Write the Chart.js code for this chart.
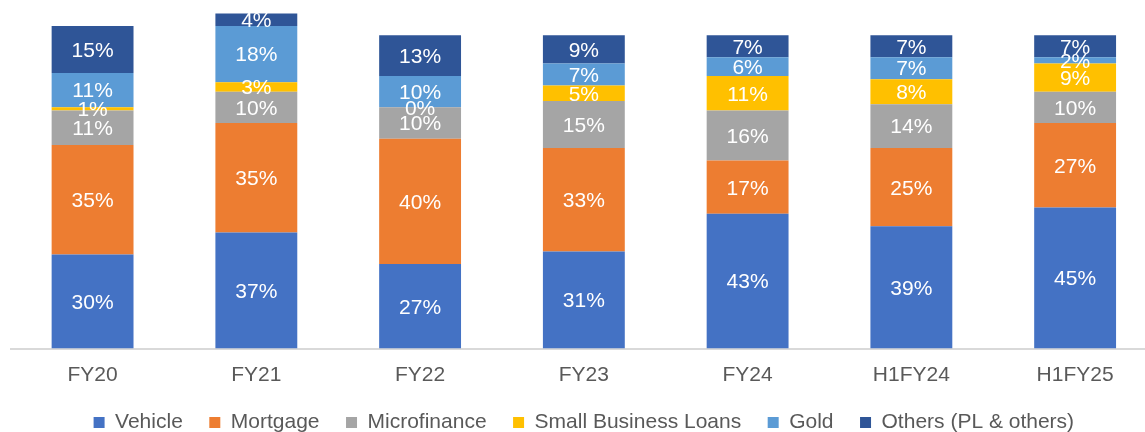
<!DOCTYPE html>
<html>
<head>
<meta charset="utf-8">
<script src="https://cdn.jsdelivr.net/npm/chart.js@4.4.1/dist/chart.umd.min.js"></script>
<style>
  html, body { margin: 0; padding: 0; background: #ffffff; overflow: hidden; }
  #wrap { position: relative; width: 1145px; height: 432px; overflow: hidden; }
  #c { display: block; }
</style>
</head>
<body>
<div id="wrap"><canvas id="c" width="1157" height="443"></canvas></div>
<script>
const categories = ["FY20", "FY21", "FY22", "FY23", "FY24", "H1FY24", "H1FY25"];
const vehicle      = [30, 37, 27, 31, 43, 39, 45];
const mortgage     = [35, 35, 40, 33, 17, 25, 27];
const microfinance = [11, 10, 10, 15, 16, 14, 10];
const smallBiz     = [1, 3, 0, 5, 11, 8, 9];
const gold         = [11, 18, 10, 7, 6, 7, 2];
const others       = [15, 4, 13, 9, 7, 7, 7];
const seriesNames  = ["Vehicle", "Mortgage", "Microfinance", "Small Business Loans", "Gold", "Others (PL & others)"];
const seriesColors = ["#4472C4", "#ED7D31", "#A5A5A5", "#FFC000", "#5B9BD5", "#2F5597"];
const seriesValues = [vehicle, mortgage, microfinance, smallBiz, gold, others];

const FONT = "'Liberation Sans', Arial, sans-serif";

const valueLabels = {
  id: 'valueLabels',
  afterDatasetsDraw(chart) {
    const ctx = chart.ctx;
    ctx.save();
    ctx.font = "21px " + FONT;
    ctx.fillStyle = "#ffffff";
    ctx.textAlign = "center";
    ctx.textBaseline = "middle";
    chart.data.datasets.forEach((ds, di) => {
      const meta = chart.getDatasetMeta(di);
      meta.data.forEach((el, i) => {
        const v = ds.data[i];
        const yc = (el.y + el.base) / 2;
        ctx.fillText(v + "%", el.x, yc + 1.5);
      });
    });
    ctx.restore();
  }
};

new Chart(document.getElementById('c'), {
  type: 'bar',
  data: {
    labels: categories,
    datasets: seriesValues.map((vals, k) => ({
      label: seriesNames[k],
      data: vals,
      backgroundColor: seriesColors[k],
      borderWidth: 0,
      barPercentage: 1.0,
      categoryPercentage: 0.5
    }))
  },
  options: {
    responsive: false,
    animation: false,
    devicePixelRatio: 1,
    layout: { padding: { left: 10.7, right: 0, top: 4, bottom: 0 } },
    scales: {
      x: {
        stacked: true,
        grid: { display: false, drawTicks: false },
        border: { display: true, color: "#D9D9D9", width: 2 },
        ticks: { color: "#595959", font: { family: FONT, size: 21 }, padding: 14.5 },
        afterFit: (scale) => { scale.height = 37; }
      },
      y: {
        stacked: true,
        display: false,
        min: 0,
        max: 110
      }
    },
    plugins: {
      legend: {
        position: 'bottom',
        labels: {
          color: "#595959",
          font: { family: FONT, size: 21 },
          boxWidth: 11,
          boxHeight: 11,
          padding: 26.5
        }
      },
      tooltip: { enabled: false }
    }
  },
  plugins: [valueLabels]
});
</script>
</body>
</html>
